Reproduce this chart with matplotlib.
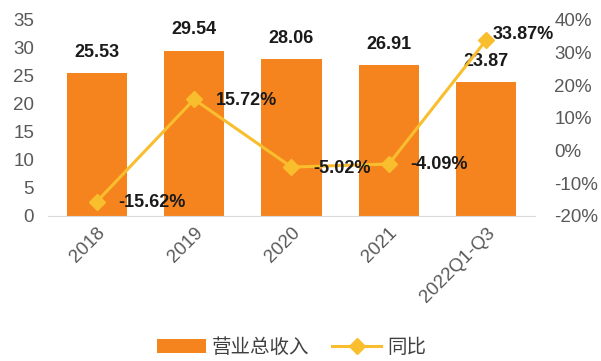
import numpy as np
import matplotlib.pyplot as plt
from matplotlib.ticker import FuncFormatter

plt.rcParams['font.family'] = ['Liberation Sans', 'Noto Sans CJK SC', 'DejaVu Sans']

categories = ["2018", "2019", "2020", "2021", "2022Q1-Q3"]
revenue = [25.53, 29.54, 28.06, 26.91, 23.87]
yoy = [-15.62, 15.72, -5.02, -4.09, 33.87]

bar_color = "#F5841F"
line_color = "#F9BE2E"

fig = plt.figure(figsize=(6.01, 3.61), dpi=100)
ax = fig.add_axes([0.08, 0.4017, 0.81, 0.5429])
x = np.arange(len(categories))

bars = ax.bar(x, revenue, width=0.62, color=bar_color, label="营业总收入", zorder=2)
ax.set_xlim(-0.5, len(categories) - 0.5)
ax.set_ylim(0, 35)
ax.set_yticks(range(0, 36, 5))
ax.set_xticks(x)
ax.set_xticklabels(categories, rotation=45, ha="right", rotation_mode="anchor")
for s in ["top", "left", "right"]:
    ax.spines[s].set_visible(False)
ax.spines["bottom"].set_color("#D9D9D9")
ax.tick_params(axis="both", length=0, labelsize=13.5, colors="#595959")
ax.tick_params(axis="x", pad=6)
ax.tick_params(axis="y", pad=10)

for xi, v in zip(x, revenue):
    ax.text(xi, v + 2.2, f"{v:.2f}", ha="center", va="bottom", fontsize=13,
            fontweight="bold", color="#1a1a1a")

ax2 = ax.twinx()
line, = ax2.plot(x, yoy, color=line_color, lw=2.2, marker="D", markersize=8.5,
                 label="同比", zorder=3)
ax2.set_ylim(-20, 40)
ax2.set_yticks(range(-20, 41, 10))
ax2.yaxis.set_major_formatter(FuncFormatter(lambda v, p: f"{v:.0f}%"))
for s in ["top", "left", "right", "bottom"]:
    ax2.spines[s].set_visible(False)
ax2.tick_params(axis="y", length=0, labelsize=13.5, colors="#595959", pad=14)

for i, (xi, v) in enumerate(zip(x, yoy)):
    dx, dy = 0.22, -0.3
    if i == len(yoy) - 1:
        dx, dy = 0.07, 1.8
    ax2.text(xi + dx, v + dy, f"{v:.2f}%", ha="left", va="center", fontsize=13,
             fontweight="bold", color="#1a1a1a")

fig.legend(handles=[bars, line], labels=["营业总收入", "同比"], loc="center",
           bbox_to_anchor=(0.485, 0.038), ncol=2, frameon=False, fontsize=14,
           handlelength=2.5, handletextpad=0.3, columnspacing=1.2,
           labelcolor="#404040")

fig.savefig("out.png", dpi=100)
